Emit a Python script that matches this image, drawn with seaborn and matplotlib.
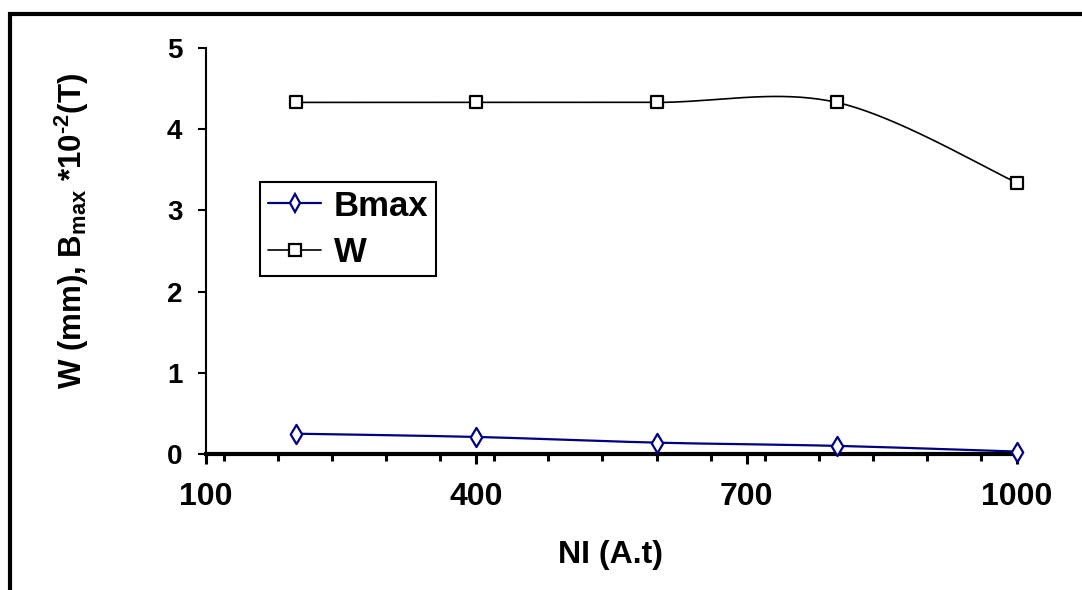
import numpy as np
import matplotlib
matplotlib.use("Agg")
import matplotlib.pyplot as plt
from matplotlib.lines import Line2D
from matplotlib.patches import Rectangle
from matplotlib.ticker import FixedLocator, MultipleLocator
import seaborn as sns

# Measured values
ni = [200, 400, 600, 800, 1000]
bmax = [0.25, 0.21, 0.14, 0.10, 0.03]
width_mm = [4.33, 4.33, 4.33, 4.33, 3.34]
x_major = [100, 400, 700, 1000]
y_ticks = [0, 1, 2, 3, 4, 5]

sns.set_theme(style="white")
plt.rcParams["font.family"] = ["Liberation Sans", "DejaVu Sans"]
plt.rcParams["font.weight"] = "bold"
plt.rcParams["mathtext.fontset"] = "custom"
plt.rcParams["mathtext.rm"] = "Liberation Sans:bold"
plt.rcParams["mathtext.bf"] = "Liberation Sans:bold"
for key in ("text.color", "axes.labelcolor", "xtick.color", "ytick.color",
            "axes.edgecolor"):
    plt.rcParams[key] = "black"


def smooth(xs, ys, n=40):
    """Catmull-Rom path through the points (spreadsheet-style smoothed line)."""
    p = np.column_stack([xs, ys]).astype(float)
    p = np.vstack([p[0], p, p[-1]])
    out = []
    for i in range(1, len(p) - 2):
        p0, p1, p2, p3 = p[i - 1], p[i], p[i + 1], p[i + 2]
        t = np.linspace(0, 1, n, endpoint=(i == len(p) - 3))[:, None]
        seg = 0.5 * ((2 * p1) + (-p0 + p2) * t + (2 * p0 - 5 * p1 + 4 * p2 - p3) * t**2
                     + (-p0 + 3 * p1 - 3 * p2 + p3) * t**3)
        out.append(seg)
    s = np.vstack(out)
    return s[:, 0], s[:, 1]


fig = plt.figure(figsize=(10.82, 5.90), dpi=100)
ax = fig.add_axes([206 / 1082, 1 - 454 / 590, (1017 - 206) / 1082, (454 - 48) / 590])

navy = "#000080"
bx, by = smooth(ni, bmax)
wx, wy = smooth(ni, width_mm)
sns.lineplot(x=bx, y=by, sort=False, estimator=None, color=navy, lw=1.6, ax=ax)
sns.lineplot(x=wx, y=wy, sort=False, estimator=None, color="black", lw=1.2, ax=ax)
sns.scatterplot(x=ni, y=bmax, marker="d", s=95, facecolor="white", edgecolor=navy,
                linewidth=1.6, ax=ax, zorder=5, clip_on=False)
sns.scatterplot(x=ni, y=width_mm, marker="s", s=70, facecolor="white", edgecolor="black",
                linewidth=1.6, ax=ax, zorder=5, clip_on=False)

ax.set_xlim(100, 1000)
ax.set_ylim(0, 5)
ax.xaxis.set_major_locator(FixedLocator(x_major))
ax.xaxis.set_minor_locator(MultipleLocator(60))
ax.yaxis.set_major_locator(FixedLocator(y_ticks))
ax.set_xticklabels([str(v) for v in x_major], fontsize=23, fontweight="bold")
ax.set_yticklabels([str(v) for v in y_ticks], fontsize=20, fontweight="bold")

for side in ("top", "right"):
    ax.spines[side].set_visible(False)
ax.spines["left"].set_linewidth(1.5)
ax.spines["bottom"].set_linewidth(3)
ax.spines["bottom"].set_zorder(3)

ax.tick_params(axis="x", which="major", direction="out", length=7, width=2.2,
               pad=13, bottom=True)
ax.tick_params(axis="x", which="minor", direction="out", length=5, width=2.2,
               bottom=True)
ax.tick_params(axis="y", which="major", direction="out", length=6, width=1.5,
               pad=11, left=True)
ax.grid(False)

fig.text(72 / 1082, 1 - 231 / 590,
         "W (mm), B$_{\\mathrm{max}}$ *10$^{\\mathrm{\u20102}}$(T)",
         rotation=90, ha="center", va="center", fontsize=22.5, fontweight="bold")
fig.text(611 / 1082, 1 - 555 / 590, "NI (A.t)", ha="center", va="center",
         fontsize=23, fontweight="bold")

handles = [
    Line2D([], [], color=navy, lw=1.6, marker="d", ms=9, mfc="white", mec=navy, mew=1.6),
    Line2D([], [], color="black", lw=1.2, marker="s", ms=8, mfc="white", mec="black", mew=1.6),
]
leg = fig.legend(handles, ["Bmax", "W"], loc="upper left",
                 bbox_to_anchor=(260 / 1082, 1 - 182 / 590), borderaxespad=0,
                 prop={"size": 25, "weight": "bold"}, frameon=True, fancybox=False,
                 shadow=False, framealpha=1, edgecolor="black", handlelength=1.55,
                 handletextpad=0.35, labelspacing=0.38, borderpad=0.22)
leg.get_frame().set_linewidth(1.5)

# outer chart frame (left and top edges fall inside the canvas)
fig.patches.append(Rectangle((10 / 1082, -0.2), 1.5, 1.2 - 13.5 / 590,
                             transform=fig.transFigure, fill=False,
                             edgecolor="black", linewidth=3, zorder=10))

fig.savefig("out.png", dpi=100, facecolor="white")
